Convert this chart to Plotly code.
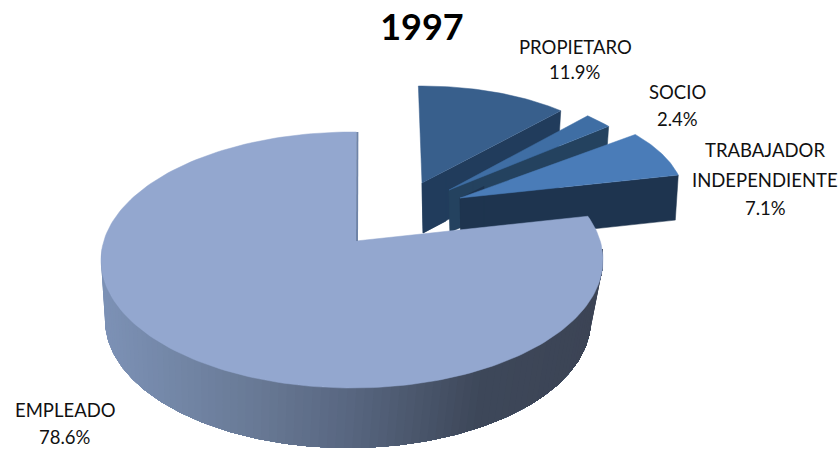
import numpy as np
import plotly.graph_objects as go

# Data
title_text = "1997"
categories = ["PROPIETARO", "SOCIO", "TRABAJADOR<br>INDEPENDIENTE", "EMPLEADO"]
values = [11.9, 2.4, 7.1, 78.6]

# Style / layout
W, H = 838, 449
top_colors = ["#385F8C", "#3F6EA4", "#4A7CB8", "#93A7CF"]
wall_colors = ["#213C5C", "#24425F", "#1E344F", None]
piece_geom = [  # apex x, apex y, rim rx, rim ry, angle shift, depth
    (422, 183, 208, 97, -1, 50),
    (449, 190, 207, 100, -1, 42),
    (460, 198, 224, 102, 0, 45),
]
# centre x, y of each text line
label_x = [575, 677, 765, 65]
label_y = [[47, 72], [92, 119], [150, 180, 208], [410, 437]]

cum = np.concatenate([[0], np.cumsum(values)]) * 3.6
fig = go.Figure()


def poly(xs, ys, color, line=0.0):
    fig.add_trace(go.Scatter(
        x=list(xs), y=list(ys), mode="lines", fill="toself", fillcolor=color,
        line=dict(color=color, width=line), hoverinfo="skip", showlegend=False))


# Pulled-out slices, back to front
for i, (ax, ay, rx, ry, shift, depth) in enumerate(piece_geom):
    t = np.radians(np.linspace(cum[i] + shift, cum[i + 1] + shift, 40))
    rimx = ax + rx * np.sin(t)
    rimy = ay - ry * np.cos(t)
    ex, ey = rimx[-1], rimy[-1]
    # cut face
    poly([ax, ax + 1, ex - 3, ex], [ay, ay + depth, ey + depth, ey], wall_colors[i], 0.5)
    # wall just below the apex
    poly([ax, ax + 1, ax + 24, ax + 24], [ay, ay + depth, ay + depth - 12, ay - 12], wall_colors[i], 0.5)
    # top face
    poly([ax] + list(rimx) + [ax], [ay] + list(rimy) + [ay], top_colors[i], 0.5)

# Main slice: rim wall with horizontal shading, painted as nested layers
cx_t, cy_t, rx_t, ry_t = 352, 260, 251, 128
cx_b, cy_b, rx_b, ry_b = 348, 320, 243, 128
shade_x = [105, 250, 345, 470, 600]
shade_r = [125, 105, 88, 62, 60]
shade_g = [146, 122, 102, 72, 68]
shade_b = [182, 150, 128, 90, 85]
rim_t = np.radians(np.linspace(275, 85, 191))
xt_all = cx_t + rx_t * np.sin(rim_t)
yt_all = cy_t - ry_t * np.cos(rim_t)
xb_all = cx_b + rx_b * np.sin(rim_t)
yb_all = cy_b - ry_b * np.cos(rim_t)
for k in range(0, 190, 2):
    xm = xb_all[k]
    col = "rgb(%d,%d,%d)" % (np.interp(xm, shade_x, shade_r), np.interp(xm, shade_x, shade_g),
                             np.interp(xm, shade_x, shade_b))
    poly(list(xt_all[k:]) + list(xb_all[k:][::-1]), list(yt_all[k:]) + list(yb_all[k:][::-1]), col, 0)

# Main slice: top face
apex = (356, 241)
main_start, main_end = 70.0, 361.0
frac = (np.linspace(cum[3], cum[4], 200) - cum[3]) / (cum[4] - cum[3])
tm = np.radians(main_start + frac * (main_end - main_start))
mx = cx_t + rx_t * np.sin(tm)
my = cy_t - ry_t * np.cos(tm)
poly([apex[0]] + list(mx) + [apex[0]], [apex[1]] + list(my) + [apex[1]], top_colors[3], 0.5)
fig.add_trace(go.Scatter(x=[mx[-1] + 1, apex[0] + 1], y=[my[-1], apex[1]], mode="lines",
                         line=dict(color="#6F84A8", width=2), hoverinfo="skip", showlegend=False))

font = dict(family="Lato, Carlito, sans-serif", size=18.5, color="#111111")
annotations = []
for c, v, lx, ys in zip(categories, values, label_x, label_y):
    lines = c.split("<br>") + [f"{v:.1f}%"]
    for line, ly in zip(lines, ys):
        annotations.append(dict(x=lx, y=ly, xref="x", yref="y", showarrow=False, text=line, font=font))

fig.update_layout(
    width=W, height=H, margin=dict(l=0, r=0, t=0, b=0), autosize=False,
    paper_bgcolor="white", plot_bgcolor="white", showlegend=False,
    title=dict(text=f"<b>{title_text}</b>", x=422 / W, xanchor="center", y=1 - 27 / H, yanchor="middle",
               font=dict(family="Lato, Carlito, sans-serif", size=36, color="#000000")),
    xaxis=dict(range=[0, W], visible=False, fixedrange=True),
    yaxis=dict(range=[H, 0], visible=False, fixedrange=True),
    annotations=annotations,
)
fig.write_html("out.html", config=dict(displayModeBar=False),
               post_script="document.body.style.margin='0';document.body.style.overflow='hidden';")
